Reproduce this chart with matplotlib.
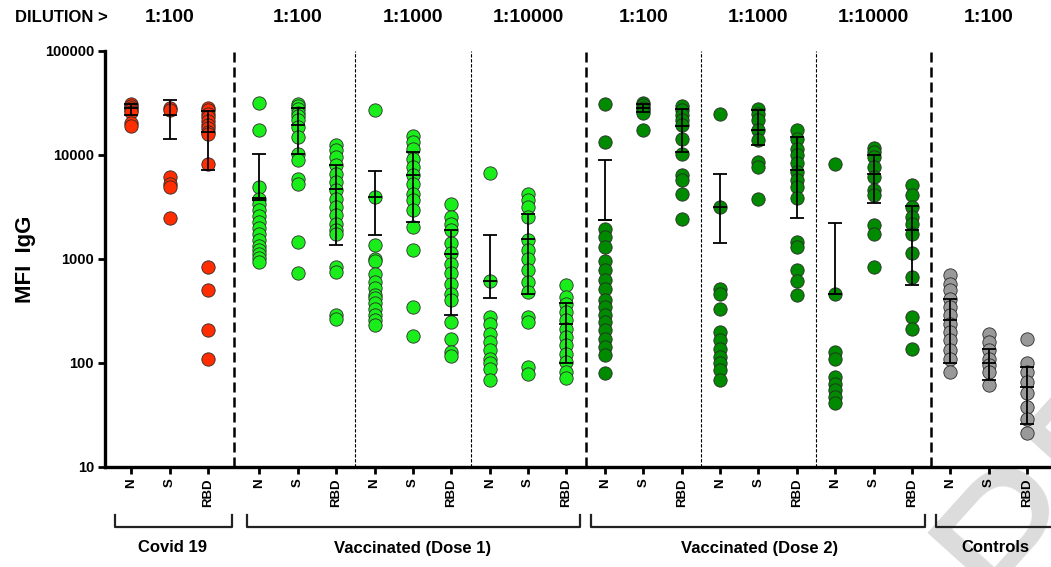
import matplotlib
matplotlib.use("Agg")
import matplotlib.pyplot as plt
import matplotlib.transforms as mtransforms
import numpy as np

plt.rcParams['font.family'] = ['Liberation Sans', 'DejaVu Sans']
plt.rcParams['font.weight'] = 'bold'

# ---- data (MFI IgG per antigen) ----
antigens = ['N', 'S', 'RBD']

covid_N = [31200, 29800, 28600, 27000, 25900, 20300, 18900]
covid_S = [28500, 27000, 6200, 5300, 4900, 2500]
covid_RBD = [28500, 27000, 25000, 23000, 21000, 19500, 18000, 16800, 16000, 8200, 830, 500, 207, 110]

d1_100_N = [31600, 17300, 4900, 3750, 3360, 2940, 2570, 2250, 1970, 1730, 1510, 1320, 1210, 1110, 1020, 930]
d1_100_S = [31000, 29500, 27700, 25500, 23500, 21600, 18600, 14900, 10300, 8900, 5900, 5300, 1460, 740]
d1_100_RBD = [12400, 11100, 9570, 7960, 6620, 5500, 4580, 3810, 3160, 2630, 2190, 1890, 1750, 838, 750, 288, 267]
d1_1000_N = [27300, 3950, 1360, 1010, 960, 720, 600, 530, 450, 420, 380, 330, 290, 260, 230]
d1_1000_S = [15100, 13300, 11500, 9230, 7670, 6380, 5310, 4250, 3660, 2940, 2030, 1210, 345, 181]
d1_1000_RBD = [3360, 2530, 2190, 1900, 1410, 1130, 904, 730, 581, 465, 401, 248, 172, 128, 116]
d1_10000_N = [6720, 611, 277, 239, 192, 159, 132, 110, 99, 88, 68]
d1_10000_S = [4190, 3660, 3160, 2530, 1510, 1210, 990, 779, 601, 482, 277, 248, 92, 78]
d1_10000_RBD = [558, 431, 372, 309, 258, 214, 178, 148, 123, 102, 82, 71]

d2_100_N = [31200, 13300, 1930, 1610, 1300, 957, 779, 624, 519, 407, 345, 288, 248, 206, 172, 143, 119, 80]
d2_100_S = [31500, 30000, 28500, 27000, 25500, 17500]
d2_100_RBD = [29400, 27000, 24000, 21600, 19300, 14100, 10300, 6380, 5730, 4250, 2400]
d2_1000_N = [25000, 3160, 519, 465, 333, 199, 165, 137, 114, 99, 85, 69]
d2_1000_S = [27900, 25000, 21600, 17300, 13800, 8570, 7670, 3810]
d2_1000_RBD = [17300, 14400, 11500, 9930, 8310, 6920, 5730, 4920, 3890, 1460, 1300, 779, 614, 448]
d2_10000_N = [8150, 465, 128, 110, 73, 63, 55, 47, 41]
d2_10000_S = [11800, 10700, 9570, 7670, 6180, 4580, 4100, 2140, 1730, 838]
d2_10000_RBD = [5110, 4100, 3160, 2530, 2190, 1750, 1150, 671, 274, 214, 137]

ctrl_N = [697, 581, 499, 416, 345, 288, 239, 199, 165, 132, 110, 82]
ctrl_S = [192, 159, 132, 110, 95, 82, 61]
ctrl_RBD = [172, 99, 82, 65, 51, 38, 29, 21]

series = [covid_N, covid_S, covid_RBD,
          d1_100_N, d1_100_S, d1_100_RBD,
          d1_1000_N, d1_1000_S, d1_1000_RBD,
          d1_10000_N, d1_10000_S, d1_10000_RBD,
          d2_100_N, d2_100_S, d2_100_RBD,
          d2_1000_N, d2_1000_S, d2_1000_RBD,
          d2_10000_N, d2_10000_S, d2_10000_RBD,
          ctrl_N, ctrl_S, ctrl_RBD]

# error bars: centre, lower, upper
err_mid = [28000, 24100, 16600, 3900, 19300, 4750, 3950, 6470, 1110, 611, 1550, 239,
           2360, 28600, 19000, 3160, 17500, 7220, 465, 6620, 1880, 258, 99, 59]
err_lo = [24500, 14200, 7130, 3700, 10300, 1360, 1690, 2270, 292, 422, 465, 101,
          2360, 25900, 10700, 1410, 12400, 2480, 465, 3450, 568, 100, 68, 26]
err_hi = [30600, 34100, 26500, 10200, 28600, 8090, 6960, 10700, 1920, 1720, 2730, 378,
          9040, 30700, 27900, 6620, 27300, 14900, 2240, 9910, 3240, 416, 137, 92]

dilutions = ['1:100', '1:100', '1:1000', '1:10000', '1:100', '1:1000', '1:10000', '1:100']
groups = ['Covid 19', 'Vaccinated (Dose 1)', 'Vaccinated (Dose 2)', 'Controls']

# ---- layout ----
pos = np.arange(24, dtype=float)
pos[:3] -= 0.33
colors = ['#ff2d00'] * 3 + ['#1aee1a'] * 9 + ['#008a00'] * 9 + ['#999999'] * 3

fig = plt.figure(figsize=(10.51, 5.67), dpi=100)

# faint watermark, behind everything
fig.text(905 / 1051, -0.16, 'PREVIEW', fontsize=150, fontweight='normal', color='#dcdcdc',
         rotation=48, ha='left', va='bottom', zorder=-1)

ax = fig.add_axes([105 / 1051, 100 / 567, 946 / 1051, 416 / 567])
ax.patch.set_alpha(0)

for i, vals in enumerate(series):
    ax.scatter(np.full(len(vals), pos[i]), vals, s=92, color=colors[i],
               edgecolors='#2a2a2a', linewidths=0.6, zorder=3, clip_on=False)

mid = np.array(err_mid, float)
ax.errorbar(pos, mid, yerr=[mid - np.array(err_lo), np.array(err_hi) - mid],
            fmt='none', ecolor='black', elinewidth=1.3, capsize=5, capthick=1.3, zorder=4)
ax.plot(pos, mid, linestyle='none', marker='_', markersize=10, mew=1.3, color='black', zorder=4)

# separators
for xv in [(pos[2] + pos[3]) / 2, 11.5, 20.5]:
    ax.axvline(xv, color='black', lw=1.8, linestyle=(0, (4, 2)), zorder=1)
for xv in [5.5, 8.5, 14.5, 17.5]:
    ax.axvline(xv, color='black', lw=0.8, linestyle=(0, (3, 1.5)), zorder=1)

ax.set_yscale('log')
ax.set_ylim(10, 100000)
ax.set_xlim(-1.02, 23.62)
ax.set_yticks([10, 100, 1000, 10000, 100000])
ax.set_yticklabels(['10', '100', '1000', '10000', '100000'], fontsize=10.5, fontweight='bold')
ax.yaxis.set_minor_locator(matplotlib.ticker.NullLocator())
ax.set_xticks(pos)
ax.set_xticklabels(antigens * 8, rotation=90, fontsize=9.5, fontweight='bold')
ax.tick_params(axis='both', length=5, width=2, pad=3)
ax.set_ylabel('MFI  IgG', fontsize=16, fontweight='bold', labelpad=6)

for sp in ['top', 'right']:
    ax.spines[sp].set_visible(False)
for sp in ['left', 'bottom']:
    ax.spines[sp].set_linewidth(2.4)

# dilution labels on top
fig.text(61 / 1051, 1 - 17 / 567, 'DILUTION >', ha='center', va='center', fontsize=12, fontweight='bold')
dil_x = [pos[1]] + [4, 7, 10, 13, 16, 19, 22]
trans_top = mtransforms.blended_transform_factory(ax.transData, fig.transFigure)
for xv, lab in zip(dil_x, dilutions):
    ax.text(xv, 1 - 17 / 567, lab, transform=trans_top, ha='center', va='center',
            fontsize=14, fontweight='bold', clip_on=False)

# group brackets
br_lo = [-0.76, 2.67, 11.64, 20.62]
br_hi = [2.29, 11.34, 20.34, 24.5]
grp_x = [0.75, 7.0, 16.04, 22.16]
y_top, y_bot = 1 - 515 / 567, 1 - 527 / 567
for a, b, xc, lab in zip(br_lo, br_hi, grp_x, groups):
    ax.plot([a, a, b, b], [y_top, y_bot, y_bot, y_top], transform=trans_top,
            color='#222222', lw=1.6, clip_on=False)
    ax.text(xc, 1 - 548 / 567, lab, transform=trans_top, ha='center', va='center',
            fontsize=12, fontweight='bold', clip_on=False)

fig.savefig('out.png', dpi=100)
